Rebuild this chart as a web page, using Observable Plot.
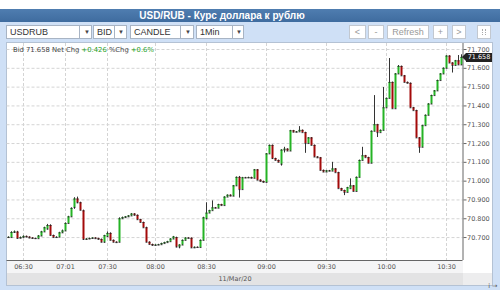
<!DOCTYPE html>
<html><head><meta charset="utf-8">
<script src="https://cdn.jsdelivr.net/npm/d3@7"></script>
<script src="https://cdn.jsdelivr.net/npm/@observablehq/plot@0.6"></script>
<style>
body{margin:0;background:#fff;}
#wrap{position:relative;width:500px;height:290px;overflow:hidden;background:#fff;font-family:"Liberation Sans",Arial,sans-serif;}
.abs{position:absolute;box-sizing:border-box;}
#titlebar{left:0;top:9px;width:500px;height:13px;background:linear-gradient(#4f7db0,#3f6c9f);color:#fff;font-weight:bold;font-size:10px;line-height:13px;}
#titlebar span{position:absolute;left:0;width:444px;text-align:center;top:0;}
#lowbg{left:0;top:22px;width:500px;height:268px;background:#cfe0f6;}
.sel{top:25px;height:14px;background:#fff;border:1px solid #a8b4c4;font-size:9px;color:#333;line-height:12px;padding-left:3px;}
.sel .dv{position:absolute;top:0;bottom:0;border-left:1px solid #a8b4c4;}
.sel .ar{position:absolute;top:0;font-size:6px;color:#444;}
.btn{top:25px;height:14px;background:#fff;border:1px solid #c2c8d0;font-size:9px;color:#999;line-height:12px;text-align:center;}
.ico{position:absolute;width:1px;height:6px;top:3px;border-left:1px dotted #aaa;}
#panel{left:6px;top:42px;width:487px;height:244px;background:#fff;border:1px solid #b4c2d4;}
#xband1{left:7px;top:261px;width:456px;height:12px;background:#f5f5f6;}
#xband2{left:7px;top:273px;width:456px;height:12px;background:#e3e3e4;color:#555;font-family:"DejaVu Sans",sans-serif;font-size:6.5px;line-height:12px;text-align:center;}
#xband3{left:463px;top:273px;width:29px;height:12px;background:#ededee;}
#info{left:13px;top:46px;font-family:"DejaVu Sans",sans-serif;font-size:6.8px;color:#444;white-space:pre;}
#info .g{color:#1f9f1f;}
#tag{left:466px;width:26px;height:9px;background:#222;color:#fff;font-family:"DejaVu Sans",sans-serif;font-size:6.5px;line-height:9px;text-align:center;}
#tagar{left:462px;width:0;height:0;border-top:4.5px solid transparent;border-bottom:4.5px solid transparent;border-right:4px solid #222;}
#chart{left:0;top:43px;width:500px;height:247px;}
</style></head><body>
<div id="wrap">
  <div class="abs" id="lowbg"></div>
  <div class="abs" id="titlebar"><span>USD/RUB - Курс доллара к рублю</span></div>
  <div class="abs sel" style="left:6px;width:86px;">USDRUB<div class="dv" style="left:72px"></div><div class="ar" style="left:77px">▼</div></div>
  <div class="abs sel" style="left:93px;width:34px;">BID<div class="dv" style="left:20px"></div><div class="ar" style="left:24px">▼</div></div>
  <div class="abs sel" style="left:130px;width:64px;">CANDLE<div class="dv" style="left:49px"></div><div class="ar" style="left:54px">▼</div></div>
  <div class="abs sel" style="left:196px;width:48px;">1Min<div class="dv" style="left:35px"></div><div class="ar" style="left:39px">▼</div></div>
  <div class="abs btn" style="left:349px;width:17px;">&lt;</div>
  <div class="abs btn" style="left:368px;width:16px;">-</div>
  <div class="abs btn" style="left:387px;width:42px;">Refresh</div>
  <div class="abs btn" style="left:433px;width:15px;">+</div>
  <div class="abs btn" style="left:452px;width:14px;">&gt;</div>
  <div class="abs btn" style="left:477px;width:14px;"><div class="ico" style="left:4px"></div><div class="ico" style="left:7px"></div></div>
  <div class="abs" id="panel"></div>
  <div class="abs" id="xband1"></div>
  <div class="abs" id="xband2">11/Mar/20</div>
  <div class="abs" id="xband3"></div>
  <div class="abs" id="chart"></div>
  <div class="abs" id="info">Bid 71.658 Net Chg <span class="g">+0.426</span> %Chg <span class="g">+0.6%</span></div>
  <div class="abs" id="tagar"></div>
  <div class="abs" id="tag">71.658</div>
</div>
<script>
// OHLC values per one-minute candle, in order
const open = [70.700,70.700,70.727,70.729,70.696,70.700,70.706,70.702,70.697,70.695,
70.694,70.708,70.730,70.745,70.764,70.711,70.700,70.702,70.725,70.735,
70.775,70.810,70.860,70.905,70.885,70.842,70.690,70.692,70.695,70.697,
70.694,70.690,70.675,70.705,70.722,70.685,70.675,70.675,70.800,70.806,
70.810,70.815,70.825,70.818,70.795,70.780,70.752,70.675,70.663,70.658,
70.660,70.662,70.668,70.673,70.678,70.692,70.700,70.650,70.660,70.685,
70.697,70.696,70.645,70.648,70.647,70.685,70.800,70.830,70.843,70.858,
70.856,70.875,70.870,70.915,70.925,70.920,70.975,71.020,70.955,71.018,
71.017,71.019,71.015,71.060,71.005,70.998,70.993,71.145,71.190,71.120,
71.110,71.090,71.165,71.170,71.160,71.268,71.260,71.262,71.270,71.258,
71.200,71.230,71.190,71.128,71.124,71.057,71.048,71.055,71.053,71.065,
71.045,70.960,70.950,70.940,70.960,70.975,70.945,71.020,71.110,71.135,
71.125,71.095,71.265,71.300,71.258,71.270,71.390,71.440,71.525,71.385,
71.570,71.610,71.560,71.525,71.520,71.390,71.375,71.230,71.180,71.295,
71.350,71.410,71.455,71.480,71.535,71.570,71.600,71.665,71.628,71.615,
71.640,71.618];
const high = [70.704,70.731,70.735,70.733,70.703,70.709,70.708,70.704,70.699,70.697,
70.711,70.733,70.755,70.770,70.768,70.713,70.704,70.728,70.740,70.778,
70.813,70.858,70.912,70.915,70.888,70.846,70.694,70.697,70.699,70.699,
70.696,70.692,70.712,70.730,70.725,70.687,70.677,70.805,70.809,70.812,
70.817,70.828,70.827,70.820,70.797,70.782,70.755,70.677,70.665,70.662,
70.664,70.670,70.675,70.680,70.694,70.706,70.702,70.662,70.687,70.699,
70.699,70.698,70.650,70.650,70.687,70.808,70.885,70.845,70.895,70.860,
70.877,70.877,70.917,70.927,70.927,70.977,71.022,71.025,71.020,71.020,
71.021,71.021,71.062,71.062,71.007,71.000,71.147,71.192,71.192,71.122,
71.112,71.167,71.180,71.172,71.270,71.270,71.264,71.290,71.272,71.260,
71.232,71.232,71.192,71.130,71.126,71.059,71.057,71.057,71.100,71.067,
71.047,70.962,70.952,70.967,71.012,70.977,71.022,71.112,71.180,71.137,
71.127,71.267,71.455,71.302,71.272,71.498,71.442,71.652,71.527,71.572,
71.615,71.612,71.562,71.527,71.522,71.392,71.377,71.232,71.297,71.352,
71.412,71.457,71.482,71.537,71.572,71.602,71.667,71.667,71.630,71.642,
71.668,71.672];
const low = [70.697,70.698,70.722,70.692,70.694,70.698,70.700,70.695,70.693,70.692,
70.692,70.706,70.728,70.740,70.708,70.698,70.698,70.700,70.722,70.733,
70.772,70.808,70.850,70.880,70.842,70.685,70.688,70.690,70.693,70.692,
70.688,70.672,70.670,70.700,70.683,70.672,70.671,70.672,70.798,70.804,
70.808,70.813,70.815,70.792,70.778,70.750,70.672,70.661,70.655,70.656,
70.658,70.660,70.666,70.671,70.676,70.690,70.645,70.640,70.658,70.683,
70.694,70.642,70.643,70.645,70.645,70.683,70.795,70.828,70.841,70.854,
70.854,70.868,70.868,70.913,70.918,70.918,70.973,70.910,70.953,71.015,
71.015,71.013,71.013,71.003,70.996,70.991,70.991,71.143,71.115,71.108,
71.098,71.080,71.150,71.158,71.158,71.258,71.258,71.260,71.256,71.148,
71.198,71.188,71.126,71.122,71.055,71.046,71.046,71.051,71.051,71.043,
70.958,70.948,70.923,70.938,70.958,70.943,70.943,71.018,71.108,71.123,
71.093,71.093,71.263,71.232,71.256,71.268,71.388,71.438,71.383,71.383,
71.568,71.558,71.523,71.518,71.388,71.373,71.228,71.148,71.178,71.293,
71.348,71.408,71.453,71.478,71.533,71.568,71.598,71.626,71.575,71.613,
71.616,71.616];
const close = [70.701,70.727,70.730,70.695,70.700,70.706,70.702,70.697,70.695,70.694,
70.708,70.730,70.752,70.764,70.711,70.700,70.701,70.725,70.735,70.775,
70.810,70.855,70.905,70.885,70.845,70.690,70.692,70.695,70.697,70.694,
70.690,70.675,70.710,70.722,70.685,70.675,70.673,70.800,70.806,70.810,
70.815,70.825,70.818,70.795,70.780,70.752,70.675,70.663,70.658,70.660,
70.662,70.668,70.673,70.678,70.692,70.703,70.650,70.660,70.685,70.697,
70.696,70.645,70.648,70.647,70.685,70.805,70.830,70.843,70.858,70.856,
70.875,70.870,70.915,70.925,70.920,70.975,71.020,70.955,71.018,71.017,
71.019,71.015,71.060,71.005,70.998,70.993,71.145,71.190,71.120,71.110,
71.100,71.165,71.170,71.160,71.268,71.260,71.262,71.270,71.258,71.200,
71.230,71.190,71.128,71.124,71.057,71.048,71.055,71.053,71.065,71.045,
70.960,70.950,70.940,70.965,70.975,70.945,71.020,71.110,71.135,71.125,
71.095,71.265,71.300,71.258,71.270,71.390,71.440,71.525,71.385,71.570,
71.610,71.560,71.525,71.520,71.390,71.375,71.230,71.180,71.295,71.350,
71.410,71.455,71.480,71.535,71.570,71.600,71.665,71.628,71.615,71.640,
71.618,71.658];

// time axis: candle index of each labelled time, and its label
const tickIndex = [5, 19, 33, 49, 66, 86, 106, 126, 146];
const tickLabels = ["06:30","07:01","07:30","08:00","08:30","09:00","09:30","10:00","10:30"];
const priceTicks = [70.7,70.8,70.9,71.0,71.1,71.2,71.3,71.4,71.5,71.6,71.7];
const lastPrice = 71.658;

const N = close.length;
const candles = close.map((c, i) => ({i, open: open[i], high: high[i], low: low[i], close: c}));
const yDomain = [70.578, 71.732];
const GREEN = "#25b325", RED = "#a30a0a";

const chart = Plot.plot({
  width: 500, height: 247,
  marginLeft: 6.5, marginRight: 37.5, marginTop: 0, marginBottom: 30,
  x: {domain: [-0.5, N - 0.5], axis: null},
  y: {domain: yDomain, axis: null},
  style: {background: "transparent", overflow: "hidden", fontFamily: "DejaVu Sans, sans-serif", fontSize: "6.5px", color: "#555"},
  marks: [
    Plot.ruleY(priceTicks, {stroke: "#d4d4d4", strokeDasharray: "3,2"}),
    Plot.ruleX(tickIndex, {stroke: "#d4d4d4", strokeDasharray: "3,2"}),
    Plot.ruleX(candles, {x: "i", y1: "low", y2: "high", stroke: "#333"}),
    Plot.rect(candles, {x1: d => d.i - 1/6, x2: d => d.i + 0.5, y1: "open", y2: "close",
      fill: d => d.close >= d.open ? GREEN : RED}),
    Plot.ruleY(candles, {x1: d => d.i - 1/6, x2: d => d.i + 0.5, y: "open", stroke: "#222", strokeWidth: 0.8}),
    Plot.ruleY(candles, {x1: d => d.i - 1/6, x2: d => d.i + 0.5, y: "close", stroke: "#222", strokeWidth: 0.8}),
    Plot.ruleX([N - 0.5], {stroke: "#666"}),
    Plot.ruleY([yDomain[0]], {stroke: "#666"}),
    Plot.axisY(priceTicks, {anchor: "right", tickFormat: d => d.toFixed(3), tickSize: 3, tickPadding: 1, fill: "#555", stroke: "#666"}),
    Plot.axisX(tickIndex, {anchor: "bottom", tickFormat: d => tickLabels[tickIndex.indexOf(d)], tickSize: 0, tickPadding: 4, fill: "#555"})
  ]
});
document.getElementById("chart").append(chart);

let py;
try { py = chart.scale("y").apply(lastPrice); } catch (e) { py = d3.scaleLinear(yDomain, [217, 0])(lastPrice); }
const tagTop = 43 + py;
document.getElementById("tag").style.top = (tagTop - 4) + "px";
document.getElementById("tagar").style.top = (tagTop - 4) + "px";
</script>
</body></html>
